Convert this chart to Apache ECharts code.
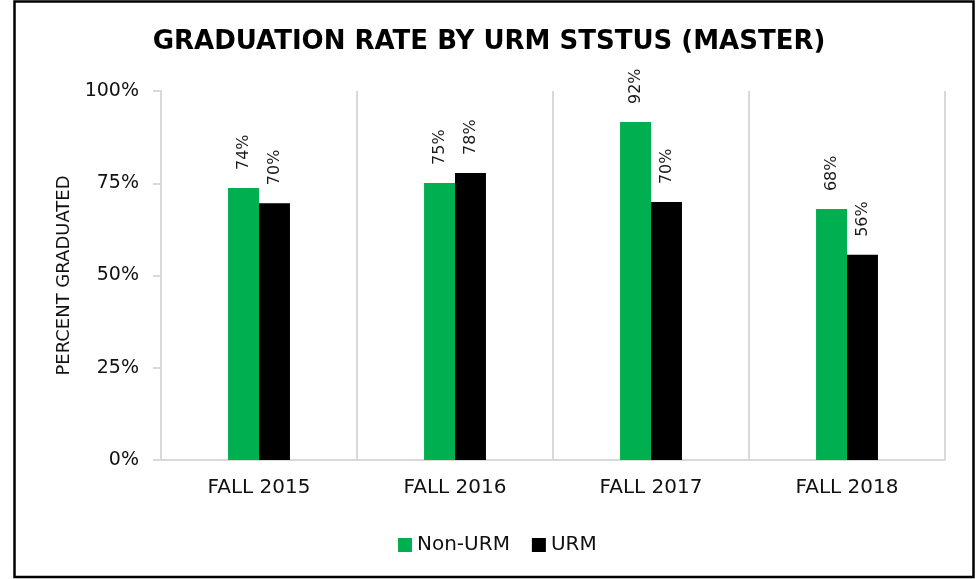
<!DOCTYPE html>
<html>
<head>
<meta charset="utf-8">
<title>Graduation rate by URM status</title>
<script src="https://cdn.jsdelivr.net/npm/echarts@6/dist/echarts.min.js"></script>
<style>
  html, body { margin: 0; padding: 0; background: #fff; }
  #chart { width: 978px; height: 579px; }
</style>
</head>
<body>
<div id="chart"></div>
<script>
const categories = ['FALL 2015', 'FALL 2016', 'FALL 2017', 'FALL 2018']
const nonUrm = [73.7, 75.1, 91.6, 68.0]
const urm = [69.6, 77.8, 69.9, 55.6]
const yTicks = [0, 25, 50, 75, 100]

const font = 'DejaVu Sans'
const green = '#00b050'
const gridGray = '#d9d9d9'

const chart = echarts.init(document.getElementById('chart'))

function barLabel () {
  return {
    show: true,
    position: 'top',
    rotate: 90,
    align: 'left',
    verticalAlign: 'middle',
    distance: 18,
    color: '#1a1a1a',
    fontFamily: font,
    fontSize: 16,
    formatter: p => Math.round(p.value) + '%'
  }
}

chart.setOption({
  animation: false,
  textStyle: { fontFamily: font },
  title: {
    text: 'GRADUATION RATE BY URM STSTUS (MASTER)',
    left: 'center',
    top: 24,
    textStyle: {
      fontFamily: font,
      fontWeight: 'bold',
      fontSize: 26,
      color: '#000'
    }
  },
  legend: {
    data: ['Non-URM', 'URM'],
    left: 393,
    top: 530,
    icon: 'rect',
    itemWidth: 14,
    itemHeight: 14,
    itemGap: 22,
    textStyle: { fontFamily: font, fontSize: 20, color: '#111' }
  },
  grid: {
    left: 161,
    right: 33,
    top: 91,
    bottom: 119
  },
  xAxis: {
    type: 'category',
    data: categories,
    axisLine: { lineStyle: { color: gridGray, width: 2 } },
    axisTick: { show: false },
    splitLine: { show: true, lineStyle: { color: gridGray, width: 2 } },
    axisLabel: {
      margin: 18,
      color: '#111',
      fontFamily: font,
      fontSize: 20
    }
  },
  yAxis: {
    type: 'value',
    min: yTicks[0],
    max: yTicks[yTicks.length - 1],
    interval: yTicks[1] - yTicks[0],
    name: 'PERCENT GRADUATED',
    nameLocation: 'middle',
    nameGap: 87,
    nameTextStyle: { fontFamily: font, fontSize: 18, color: '#111' },
    axisLine: { show: true, lineStyle: { color: gridGray, width: 2 } },
    axisTick: { show: true, length: 8, lineStyle: { color: gridGray, width: 2 } },
    splitLine: { show: false },
    axisLabel: {
      margin: 22,
      color: '#111',
      fontFamily: font,
      fontSize: 19,
      formatter: '{value}%'
    }
  },
  series: [
    {
      name: 'Non-URM',
      type: 'bar',
      barWidth: '15.8%',
      barGap: '0%',
      itemStyle: { color: green },
      label: barLabel(),
      data: nonUrm
    },
    {
      name: 'URM',
      type: 'bar',
      barWidth: '15.8%',
      barGap: '0%',
      itemStyle: { color: '#000' },
      label: barLabel(),
      data: urm
    }
  ],
  // outer frame around the whole chart
  graphic: [{
    type: 'rect',
    shape: { x: 14.5, y: 1.5, width: 959, height: 575.5 },
    style: { fill: 'none', stroke: '#000', lineWidth: 2.5 },
    silent: true
  }]
})
</script>
</body>
</html>
